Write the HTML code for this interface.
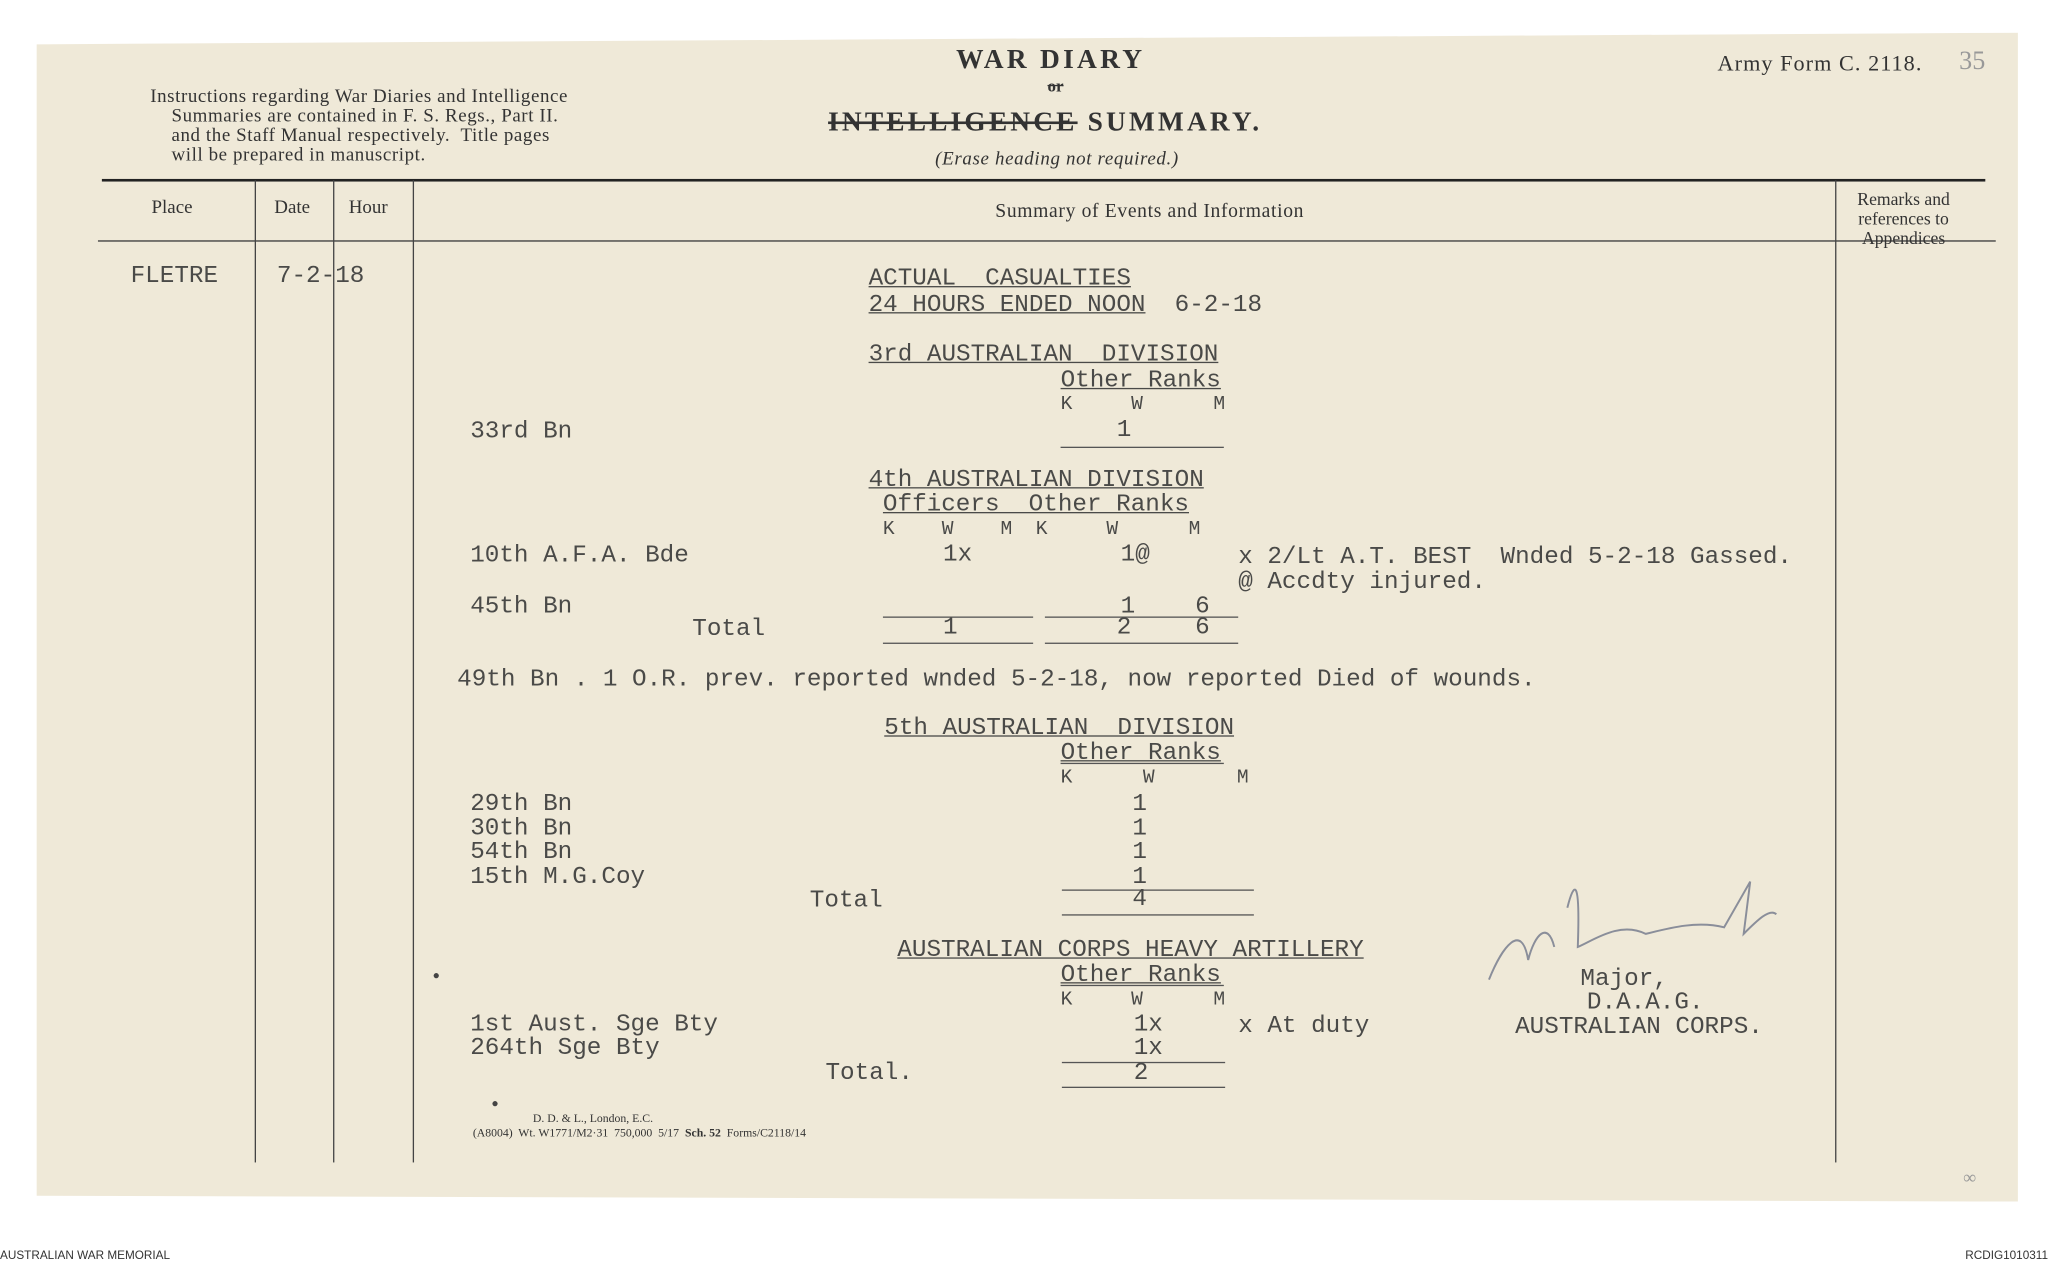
<!DOCTYPE html>
<html><head><meta charset="utf-8">
<style>
html,body{margin:0;padding:0;background:#fff;}
body{width:2048px;height:1264px;overflow:hidden;position:relative;}
#w{position:absolute;left:0;top:0;width:1568px;height:968px;transform:scale(1.30612);transform-origin:0 0;}
#paper{position:absolute;left:28px;top:25px;width:1517px;height:895px;background:#efe9d8;clip-path:polygon(0 1%,100% 0,100% 100%,0 99.5%);}
.t{position:absolute;white-space:pre;font-family:"Liberation Mono",monospace;font-size:18.6px;color:#4a4a48;line-height:20px;}
.s{position:absolute;white-space:pre;font-family:"Liberation Serif",serif;color:#333;}
.u{text-decoration:underline;}
.h{position:absolute;background:#3a3a3a;height:1px;}
.v{position:absolute;background:#444;width:1px;}
.ln{position:absolute;background:#555;height:1px;}
</style></head><body><div id="w">
<div id="paper"></div>

<div class="s" style="left:732px;top:33px;font-size:21px;font-weight:bold;letter-spacing:2.5px">WAR DIARY</div>
<div class="s" style="left:802px;top:58px;font-size:13px;font-weight:bold;text-decoration:line-through">or</div>
<div class="s" style="left:634px;top:81px;font-size:21px;font-weight:bold;letter-spacing:2.4px"><span style="text-decoration:line-through">INTELLIGENCE</span> SUMMARY.</div>
<div class="s" style="left:716px;top:114px;font-size:14.5px;font-style:italic;letter-spacing:0.5px">(Erase heading not required.)</div>
<div class="s" style="left:1315px;top:39px;font-size:17px;letter-spacing:0.8px">Army Form C. 2118.</div>
<div class="s" style="left:115px;top:67px;font-size:14.5px;line-height:15px;letter-spacing:0.45px">Instructions regarding War Diaries and Intelligence
    Summaries are contained in F. S. Regs., Part II.
    and the Staff Manual respectively.  Title pages
    will be prepared in manuscript.</div>

<div class="h" style="left:78px;top:137px;width:1442px;height:2px;background:#222"></div>
<div class="h" style="left:75px;top:184px;width:1453px"></div>
<div class="v" style="left:195px;top:138px;height:752px"></div>
<div class="v" style="left:255px;top:138px;height:752px"></div>
<div class="v" style="left:316px;top:138px;height:752px"></div>
<div class="v" style="left:1405px;top:138px;height:752px"></div>

<div class="s" style="left:116px;top:151px;font-size:14.5px">Place</div>
<div class="s" style="left:210px;top:151px;font-size:14.5px">Date</div>
<div class="s" style="left:267px;top:151px;font-size:14.5px">Hour</div>
<div class="s" style="left:762px;top:154px;font-size:15px;letter-spacing:0.5px">Summary of Events and Information</div>
<div class="s" style="left:1422px;top:145px;font-size:13.5px;line-height:15px;text-align:center">Remarks and
references to
Appendices</div>

<div class="t" style="left:100px;top:202px">FLETRE</div>
<div class="t" style="left:212px;top:202px">7-2-18</div>

<div class="t u" style="left:665px;top:204px">ACTUAL  CASUALTIES</div>
<div class="t" style="left:665px;top:224px"><span class="u">24 HOURS ENDED NOON</span>  6-2-18</div>

<div class="t u" style="left:665px;top:262px">3rd AUSTRALIAN  DIVISION</div>
<div class="t u" style="left:812px;top:282px">Other Ranks</div>
<div class="t" style="left:812px;top:300px;font-size:15px">K     W      M</div>
<div class="t" style="left:360px;top:321px">33rd Bn</div>
<div class="t" style="left:855px;top:320px">1</div>
<div class="ln" style="left:812px;top:342px;width:125px"></div>

<div class="t u" style="left:665px;top:358px">4th AUSTRALIAN DIVISION</div>
<div class="t u" style="left:676px;top:377px">Officers  Other Ranks</div>
<div class="t" style="left:676px;top:396px;font-size:15px">K    W    M  K     W      M</div>
<div class="t" style="left:360px;top:416px">10th A.F.A. Bde</div>
<div class="t" style="left:722px;top:415px">1x</div>
<div class="t" style="left:858px;top:415px">1@</div>
<div class="t" style="left:948px;top:417px">x 2/Lt A.T. BEST  Wnded 5-2-18 Gassed.</div>
<div class="t" style="left:948px;top:436px">@ Accdty injured.</div>
<div class="t" style="left:360px;top:455px">45th Bn</div>
<div class="t" style="left:858px;top:455px">1</div>
<div class="t" style="left:915px;top:455px">6</div>
<div class="ln" style="left:676px;top:472px;width:115px"></div>
<div class="ln" style="left:800px;top:472px;width:148px"></div>
<div class="t" style="left:530px;top:472px">Total</div>
<div class="t" style="left:722px;top:471px">1</div>
<div class="t" style="left:855px;top:471px">2</div>
<div class="t" style="left:915px;top:471px">6</div>
<div class="ln" style="left:676px;top:492px;width:115px"></div>
<div class="ln" style="left:800px;top:492px;width:148px"></div>

<div class="t" style="left:350px;top:511px">49th Bn . 1 O.R. prev. reported wnded 5-2-18, now reported Died of wounds.</div>

<div class="t u" style="left:677px;top:548px">5th AUSTRALIAN  DIVISION</div>
<div class="t u" style="left:812px;top:567px">Other Ranks</div>
<div class="t" style="left:812px;top:586px;font-size:15px">K      W       M</div>
<div class="ln" style="left:812px;top:584px;width:125px"></div>
<div class="t" style="left:360px;top:606px">29th Bn</div>
<div class="t" style="left:360px;top:625px">30th Bn</div>
<div class="t" style="left:360px;top:643px">54th Bn</div>
<div class="t" style="left:360px;top:662px">15th M.G.Coy</div>
<div class="t" style="left:867px;top:606px">1</div>
<div class="t" style="left:867px;top:625px">1</div>
<div class="t" style="left:867px;top:643px">1</div>
<div class="t" style="left:867px;top:662px">1</div>
<div class="ln" style="left:813px;top:681px;width:147px"></div>
<div class="t" style="left:620px;top:680px">Total</div>
<div class="t" style="left:867px;top:679px">4</div>
<div class="ln" style="left:813px;top:700px;width:147px"></div>

<div class="t u" style="left:687px;top:718px">AUSTRALIAN CORPS HEAVY ARTILLERY</div>
<div class="t u" style="left:812px;top:737px">Other Ranks</div>
<div class="t" style="left:812px;top:756px;font-size:15px">K     W      M</div>
<div class="ln" style="left:812px;top:754px;width:125px"></div>
<div class="t" style="left:360px;top:775px">1st Aust. Sge Bty</div>
<div class="t" style="left:360px;top:793px">264th Sge Bty</div>
<div class="t" style="left:868px;top:775px">1x</div>
<div class="t" style="left:868px;top:793px">1x</div>
<div class="t" style="left:948px;top:776px">x At duty</div>
<div class="ln" style="left:813px;top:813px;width:125px"></div>
<div class="t" style="left:632px;top:812px">Total.</div>
<div class="t" style="left:868px;top:812px">2</div>
<div class="ln" style="left:813px;top:832px;width:125px"></div>

<svg style="position:absolute;left:1130px;top:665px" width="240" height="100"><path d="M10 85 C20 60 35 40 40 70 C45 50 55 40 60 60 M70 30 C75 10 80 5 78 60 C90 55 110 40 130 50 C150 45 170 40 190 45 L210 10 L205 50 C215 40 225 30 230 35" fill="none" stroke="#8a8e9a" stroke-width="1.5"/></svg>
<div class="t" style="left:1210px;top:740px">Major,</div>
<div class="t" style="left:1215px;top:758px">D.A.A.G.</div>
<div class="t" style="left:1160px;top:777px">AUSTRALIAN CORPS.</div>
<div style="position:absolute;left:332px;top:745px;width:4px;height:4px;border-radius:2px;background:#444"></div>
<div style="position:absolute;left:377px;top:843px;width:4px;height:4px;border-radius:2px;background:#444"></div>

<div class="s" style="left:408px;top:851px;font-size:9px">D. D. &amp; L., London, E.C.</div>
<div class="s" style="left:362px;top:862px;font-size:9px">(A8004)  Wt. W1771/M2·31  750,000  5/17  <b>Sch. 52</b>  Forms/C2118/14</div>

<div class="s" style="left:1500px;top:36px;font-size:20px;color:#999">35</div>
<div class="s" style="left:1503px;top:895px;font-size:14px;color:#999">∞</div>
<div style="position:absolute;left:0;top:956px;font-family:'Liberation Sans',sans-serif;font-size:9px;color:#333">AUSTRALIAN WAR MEMORIAL</div>
<div style="position:absolute;right:0;top:956px;font-family:'Liberation Sans',sans-serif;font-size:9px;color:#333">RCDIG1010311</div>
</div></body></html>
